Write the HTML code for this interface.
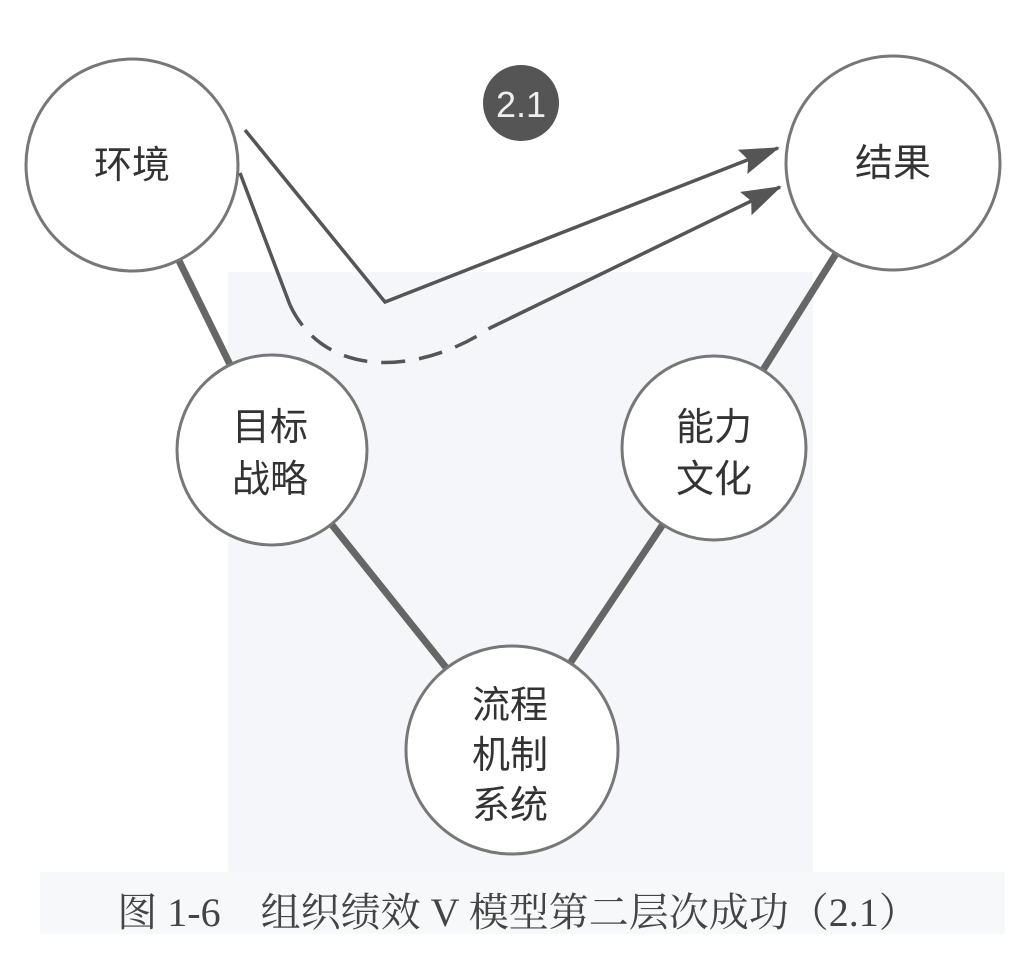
<!DOCTYPE html>
<html><head><meta charset="utf-8"><style>
body{margin:0;background:#fff;}
svg{display:block}
</style></head><body>
<svg width="1036" height="970" viewBox="0 0 1036 970" xmlns="http://www.w3.org/2000/svg">
<defs>
<marker id="ah" markerWidth="40" markerHeight="26" refX="38" refY="13" orient="auto" markerUnits="userSpaceOnUse" viewBox="0 0 40 26">
<path d="M0,0 L40,13 L0,26 L6,13 Z" fill="#555"/>
</marker>
</defs>
<rect x="228" y="272" width="585" height="605" fill="#f4f6f9"/>
<rect x="40" y="872" width="965" height="62" fill="#f7f8f9"/>
<g stroke="#666" stroke-width="7">
<line x1="132" y1="165" x2="272" y2="450"/>
<line x1="893" y1="163" x2="714" y2="448"/>
<line x1="272" y1="450" x2="512" y2="750"/>
<line x1="714" y1="448" x2="512" y2="750"/>
</g>
<g fill="#fff" stroke="#777" stroke-width="3">
<circle cx="132" cy="165" r="106"/>
<circle cx="893" cy="163" r="107"/>
<circle cx="272" cy="450" r="95"/>
<circle cx="714" cy="448" r="92"/>
<ellipse cx="512" cy="750" rx="106" ry="104"/>
</g>
<circle cx="521" cy="103" r="38" fill="#555"/>
<text x="521" y="117" text-anchor="middle" font-family="Liberation Sans, sans-serif" font-size="36" fill="#eee">2.1</text>
<g stroke="#555" stroke-width="3.5" fill="none">
<polyline points="245,130 385,302 778,148" marker-end="url(#ah)"/>
<path d="M240,173 L290,305"/>
<path d="M290,305 C325,380 420,375 490,328" stroke-dasharray="24,14"/>
<path d="M490,328 L780,187" marker-end="url(#ah)"/>
</g>
<g font-family="Liberation Sans, 'Noto Sans CJK SC', sans-serif" font-size="38" fill="#333" text-anchor="middle">
<text x="132" y="178">环境</text>
<text x="893" y="176">结果</text>
<text x="270" y="440">目标</text>
<text x="270" y="492">战略</text>
<text x="714" y="440">能力</text>
<text x="714" y="492">文化</text>
<text x="510" y="718">流程</text>
<text x="510" y="768">机制</text>
<text x="510" y="818">系统</text>
</g>
<text x="518" y="926" text-anchor="middle" font-family="Liberation Serif, 'Noto Serif CJK SC', serif" font-size="40" fill="#444">图 1-6　组织绩效 V 模型第二层次成功（2.1）</text>
</svg>
</body></html>
